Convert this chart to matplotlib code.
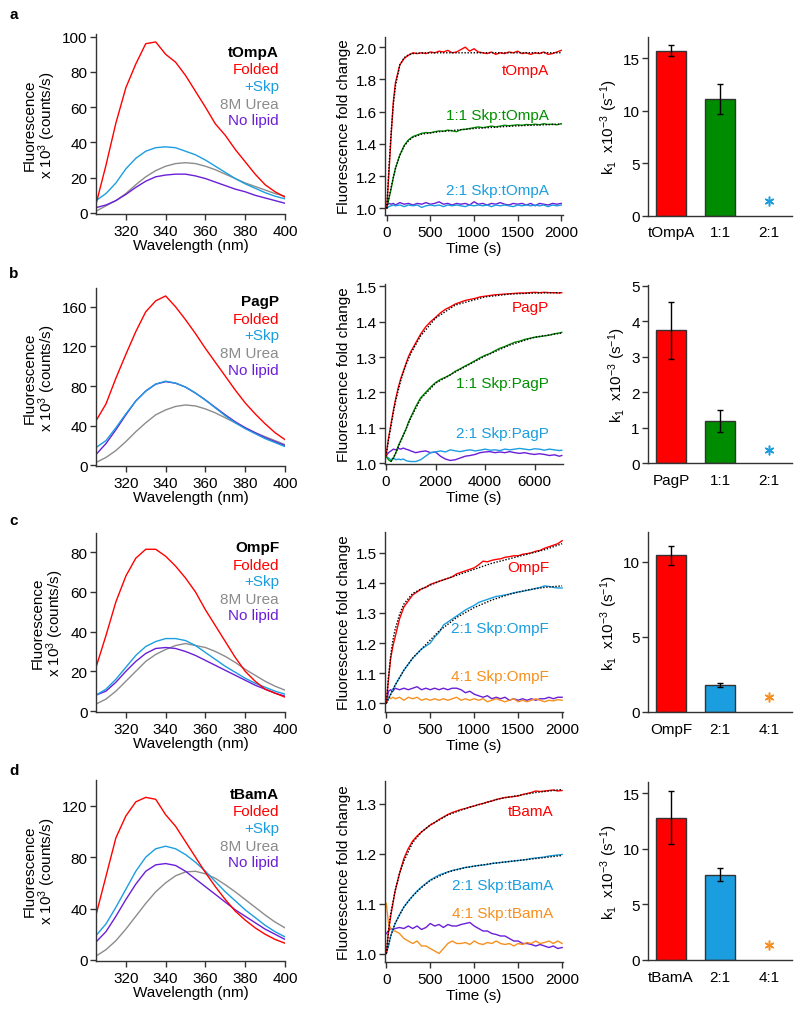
import numpy as np
import matplotlib
matplotlib.use('Agg')
import matplotlib.pyplot as plt

plt.rcParams['font.family'] = ['Liberation Sans', 'DejaVu Sans']
plt.rcParams['mathtext.fontset'] = 'custom'
plt.rcParams['mathtext.rm'] = 'Liberation Sans'
plt.rcParams['mathtext.it'] = 'Liberation Sans'
plt.rcParams['font.size'] = 11

RED = '#ff0000'
SKY = '#1b9ee0'
GRAY = '#8c8c8c'
PURPLE = '#6a1ed8'
GREEN = '#009000'
BARGREEN = '#008c00'
ORANGE = '#f7901e'

# ---- emission spectra (x 10^3 counts/s) ----
wavelength = [305, 310, 315, 320, 325, 330, 335, 340, 345, 350,
              355, 360, 365, 370, 375, 380, 385, 390, 395, 400]

tompa_folded = [5, 27, 51, 71, 84.5, 96, 97, 90, 85.5, 78, 69, 60, 50.5, 44, 36, 29, 22, 16, 12, 9]
tompa_skp = [7, 11, 17, 25, 31, 35, 37, 37.5, 37, 35, 33, 30, 26.5, 23, 19.5, 16.5, 14, 11.5, 9.5, 8]
tompa_urea = [1, 4, 7, 11, 16, 20.5, 24, 26.5, 28, 28.5, 28, 26.5, 24.5, 22, 19.5, 17, 15, 13, 11, 9.5]
tompa_nolipid = [3, 4.5, 7, 10.5, 14.5, 18, 20.5, 21.5, 22, 22, 21, 19.5, 17.5, 15.5, 13.5, 12, 10, 8.5, 7, 5.5]

pagp_folded = [45, 62, 88, 112, 135, 155, 166, 171, 160, 147, 133, 118, 104, 90, 76, 63, 52, 42, 33, 26]
pagp_skp = [18, 25, 38, 52, 65, 75, 82, 85, 83, 79, 73, 66, 58, 50, 43, 37, 32, 27, 23, 19]
pagp_urea = [3, 8, 15, 24, 34, 43, 51, 56, 59.5, 61, 60, 57, 53, 48, 43, 38, 33, 29, 25, 21]
pagp_nolipid = [11, 22, 36, 51, 65, 75, 82, 84.5, 83, 79, 73, 66, 58.5, 51, 44, 38, 33, 28, 24, 20]

ompf_folded = [22, 38, 55, 68, 77, 81.5, 81.5, 78, 73, 67, 60, 51, 43, 35, 27, 20, 15, 11, 9, 7]
ompf_skp = [8, 11, 16, 22, 28, 32.5, 35, 36.5, 36.5, 35.5, 33, 29.5, 26, 22.5, 19.5, 16.5, 14, 12, 10, 8.5]
ompf_urea = [3.5, 6, 10, 15, 20, 25, 28.5, 31, 33, 34, 33, 32, 30, 27.5, 24.5, 21, 18, 15, 12.5, 10.5]
ompf_nolipid = [8, 10, 14.5, 20, 25, 29, 31.5, 32, 31.5, 30, 28, 25.5, 23, 20.5, 18, 15.5, 13, 11, 9, 7.5]

tbama_folded = [35, 65, 95, 112, 123, 126.5, 125, 113, 104, 92, 80, 68, 57, 47, 38, 31, 25, 20, 16, 13]
tbama_skp = [19, 28, 41, 55, 69, 80, 86.5, 88.5, 86.5, 82, 76, 69, 61, 53, 46, 39, 33, 27, 22, 18]
tbama_urea = [3, 8, 15, 24, 34, 44, 53, 60, 65.5, 68.5, 69, 67, 63.5, 58.5, 53, 47, 41, 35, 29.5, 25]
tbama_nolipid = [14, 22, 34, 47, 59, 69, 74, 75, 73.5, 69, 63, 57, 51, 45, 39, 34, 29, 24, 20, 16]

# ---- folding kinetics (fold change) ----
t_short = [0, 25, 50, 75, 100, 150, 200, 250, 300, 350, 400, 450, 500, 550, 600, 650, 700, 750,
           800, 850, 900, 950, 1000, 1050, 1100, 1150, 1200, 1250, 1300, 1350, 1400, 1450, 1500,
           1550, 1600, 1650, 1700, 1750, 1800, 1850, 1900, 1950, 2000]

kin_tompa = [1.00, 1.22, 1.45, 1.66, 1.78, 1.89, 1.93, 1.95, 1.965, 1.96, 1.965, 1.96, 1.97, 1.965,
             1.975, 1.97, 1.98, 1.965, 1.97, 1.985, 2.0, 1.975, 1.99, 1.97, 1.965, 1.96, 1.97, 1.955,
             1.965, 1.96, 1.97, 1.965, 1.975, 1.96, 1.965, 1.955, 1.965, 1.96, 1.97, 1.955, 1.96,
             1.97, 1.98]
kin_tompa_11 = [1.0, 1.06, 1.12, 1.19, 1.25, 1.33, 1.39, 1.425, 1.445, 1.455, 1.465, 1.47, 1.468,
                1.475, 1.48, 1.478, 1.485, 1.48, 1.475, 1.488, 1.49, 1.495, 1.50, 1.505, 1.50, 1.505,
                1.51, 1.505, 1.51, 1.515, 1.512, 1.515, 1.518, 1.515, 1.52, 1.518, 1.522, 1.518,
                1.525, 1.52, 1.522, 1.518, 1.525]
kin_tompa_21 = [1.0, 1.01, 1.015, 1.02, 1.015, 1.02, 1.01, 1.02, 1.015, 1.02, 1.005, 1.015, 1.02,
                1.015, 1.02, 1.01, 1.02, 1.015, 1.02, 1.015, 1.01, 1.02, 1.015, 1.02, 1.015, 1.02,
                1.01, 1.02, 1.015, 1.02, 1.015, 1.01, 1.02, 1.015, 1.02, 1.015, 1.02, 1.015, 1.02,
                1.01, 1.02, 1.015, 1.02]
kin_tompa_nolipid = [1.02, 1.03, 1.025, 1.03, 1.02, 1.035, 1.025, 1.03, 1.02, 1.03, 1.025, 1.035,
                     1.025, 1.03, 1.04, 1.025, 1.03, 1.02, 1.03, 1.025, 1.03, 1.02, 1.04, 1.025,
                     1.03, 1.02, 1.03, 1.025, 1.035, 1.025, 1.02, 1.03, 1.025, 1.03, 1.02, 1.03,
                     1.015, 1.03, 1.025, 1.02, 1.03, 1.025, 1.03]
fit_t_tompa = [0, 25, 50, 75, 100, 150, 200, 250, 300, 400, 600, 1000, 2000]
fit_tompa = [1.0, 1.25, 1.47, 1.64, 1.76, 1.89, 1.935, 1.953, 1.96, 1.964, 1.965, 1.965, 1.965]
fit_t_tompa_11 = [0, 25, 50, 75, 100, 150, 200, 250, 300, 400, 600, 800, 1000, 1500, 2000]
fit_tompa_11 = [1.0, 1.065, 1.13, 1.19, 1.245, 1.33, 1.385, 1.42, 1.44, 1.46, 1.475, 1.485, 1.495,
                1.512, 1.522]

t_long = [0, 100, 200, 300, 400, 500, 600, 700, 800, 900, 1000, 1200, 1400, 1600, 1800, 2000,
          2200, 2400, 2600, 2800, 3000, 3200, 3400, 3600, 3800, 4000, 4200, 4400, 4600, 4800,
          5000, 5200, 5400, 5600, 5800, 6000, 6200, 6400, 6600, 6800, 7000, 7100]

kin_pagp = [1.02, 1.07, 1.11, 1.15, 1.185, 1.215, 1.24, 1.26, 1.28, 1.30, 1.315, 1.34, 1.365,
            1.385, 1.40, 1.412, 1.425, 1.435, 1.442, 1.45, 1.455, 1.46, 1.463, 1.466, 1.47, 1.472,
            1.474, 1.476, 1.477, 1.478, 1.479, 1.48, 1.481, 1.481, 1.482, 1.483, 1.482, 1.483,
            1.482, 1.482, 1.481, 1.482]
kin_pagp_11 = [1.02, 1.01, 1.005, 1.015, 1.03, 1.05, 1.065, 1.08, 1.095, 1.115, 1.13, 1.16, 1.185,
               1.20, 1.215, 1.228, 1.237, 1.243, 1.25, 1.26, 1.267, 1.275, 1.282, 1.29, 1.298,
               1.305, 1.31, 1.318, 1.325, 1.33, 1.336, 1.342, 1.345, 1.35, 1.353, 1.356, 1.358,
               1.36, 1.362, 1.366, 1.368, 1.37]
kin_pagp_21 = [1.02, 1.015, 1.01, 1.015, 1.01, 1.012, 1.01, 1.012, 1.008, 1.006, 1.005, 1.005,
               1.01, 1.02, 1.03, 1.032, 1.035, 1.032, 1.038, 1.035, 1.033, 1.036, 1.038, 1.035,
               1.037, 1.04, 1.037, 1.038, 1.036, 1.04, 1.038, 1.04, 1.042, 1.04, 1.038, 1.041,
               1.04, 1.037, 1.04, 1.038, 1.036, 1.037]
kin_pagp_nolipid = [1.02, 1.03, 1.035, 1.04, 1.038, 1.042, 1.04, 1.043, 1.04, 1.038, 1.035, 1.03,
                    1.033, 1.035, 1.03, 1.032, 1.02, 1.012, 1.008, 1.01, 1.015, 1.02, 1.022,
                    1.025, 1.03, 1.032, 1.033, 1.03, 1.032, 1.03, 1.033, 1.03, 1.028, 1.03,
                    1.027, 1.025, 1.027, 1.025, 1.022, 1.024, 1.02, 1.022]
fit_t_pagp = [0, 100, 200, 300, 400, 600, 800, 1000, 1400, 2000, 2800, 4000, 5000, 6000, 7100]
fit_pagp = [1.02, 1.065, 1.105, 1.145, 1.18, 1.235, 1.277, 1.31, 1.36, 1.41, 1.447, 1.47, 1.478,
            1.481, 1.482]
fit_t_pagp_11 = [200, 300, 400, 600, 800, 1000, 1400, 2000, 2800, 4000, 5000, 6000, 7100]
fit_pagp_11 = [1.005, 1.015, 1.03, 1.063, 1.095, 1.128, 1.182, 1.226, 1.258, 1.303, 1.334, 1.356,
               1.368]

kin_ompf = [1.0, 1.08, 1.15, 1.19, 1.22, 1.28, 1.32, 1.34, 1.36, 1.37, 1.38, 1.385, 1.395, 1.40,
            1.405, 1.41, 1.415, 1.42, 1.43, 1.435, 1.44, 1.445, 1.45, 1.46, 1.472, 1.47, 1.475,
            1.478, 1.48, 1.485, 1.487, 1.49, 1.49, 1.495, 1.497, 1.50, 1.505, 1.508, 1.515, 1.52,
            1.525, 1.53, 1.54]
kin_ompf_21 = [1.0, 1.015, 1.03, 1.045, 1.06, 1.085, 1.11, 1.13, 1.15, 1.165, 1.18, 1.19, 1.20,
               1.22, 1.235, 1.26, 1.27, 1.28, 1.29, 1.30, 1.31, 1.318, 1.325, 1.335, 1.34, 1.345,
               1.35, 1.355, 1.357, 1.36, 1.363, 1.367, 1.37, 1.372, 1.375, 1.378, 1.382, 1.385,
               1.39, 1.388, 1.385, 1.383, 1.383]
kin_ompf_41 = [1.005, 1.02, 1.015, 1.02, 1.015, 1.02, 1.01, 1.02, 1.015, 1.02, 1.01, 1.015, 1.01,
               1.015, 1.01, 1.015, 1.01, 1.015, 1.02, 1.01, 1.015, 1.01, 1.015, 1.01, 1.015,
               1.005, 1.01, 1.015, 1.01, 1.005, 1.01, 1.015, 1.005, 1.01, 1.005, 1.01, 1.015,
               1.01, 1.005, 1.01, 1.008, 1.012, 1.01]
kin_ompf_nolipid = [1.0, 1.04, 1.045, 1.04, 1.05, 1.045, 1.05, 1.045, 1.05, 1.055, 1.045, 1.05,
                    1.045, 1.05, 1.045, 1.05, 1.045, 1.05, 1.05, 1.045, 1.035, 1.04, 1.03, 1.025,
                    1.02, 1.025, 1.015, 1.02, 1.015, 1.02, 1.01, 1.015, 1.01, 1.015, 1.01, 1.015,
                    1.01, 1.015, 1.015, 1.02, 1.015, 1.02, 1.02]
fit_t_ompf = [0, 25, 50, 75, 100, 150, 200, 300, 400, 600, 800, 1000, 1200, 1400, 1600, 1800, 2000]
fit_ompf = [1.0, 1.09, 1.16, 1.21, 1.245, 1.295, 1.33, 1.365, 1.38, 1.405, 1.425, 1.445, 1.465,
            1.48, 1.495, 1.51, 1.53]
fit_t_ompf_21 = [0, 100, 200, 300, 400, 500, 600, 800, 1000, 1200, 1400, 1600, 1800, 2000]
fit_ompf_21 = [1.0, 1.06, 1.11, 1.15, 1.18, 1.21, 1.24, 1.285, 1.318, 1.343, 1.362, 1.376, 1.385,
               1.39]

kin_tbama = [1.0, 1.045, 1.075, 1.10, 1.125, 1.16, 1.19, 1.21, 1.225, 1.235, 1.243, 1.25, 1.257,
             1.262, 1.268, 1.273, 1.278, 1.282, 1.285, 1.288, 1.29, 1.293, 1.295, 1.298, 1.30,
             1.303, 1.305, 1.308, 1.31, 1.312, 1.313, 1.314, 1.315, 1.318, 1.32, 1.322, 1.325,
             1.324, 1.325, 1.326, 1.327, 1.325, 1.326]
kin_tbama_21 = [1.0, 1.015, 1.035, 1.048, 1.06, 1.078, 1.093, 1.105, 1.115, 1.125, 1.133, 1.14,
                1.147, 1.152, 1.157, 1.16, 1.163, 1.166, 1.168, 1.17, 1.172, 1.173, 1.175, 1.176,
                1.177, 1.178, 1.18, 1.181, 1.182, 1.183, 1.184, 1.185, 1.186, 1.187, 1.188, 1.19,
                1.191, 1.192, 1.193, 1.195, 1.196, 1.197, 1.198]
kin_tbama_41 = [1.10, 1.06, 1.05, 1.045, 1.045, 1.04, 1.03, 1.025, 1.02, 1.025, 1.015, 1.015,
                1.01, 1.005, 1.0, 1.01, 1.02, 1.025, 1.02, 1.02, 1.022, 1.018, 1.025, 1.02, 1.018,
                1.022, 1.02, 1.025, 1.02, 1.018, 1.02, 1.015, 1.02, 1.018, 1.022, 1.02, 1.025,
                1.02, 1.022, 1.025, 1.02, 1.025, 1.02]
kin_tbama_nolipid = [1.04, 1.045, 1.05, 1.048, 1.05, 1.052, 1.05, 1.055, 1.05, 1.055, 1.048,
                     1.052, 1.06, 1.055, 1.058, 1.052, 1.058, 1.055, 1.055, 1.058, 1.06, 1.062,
                     1.055, 1.05, 1.045, 1.045, 1.04, 1.038, 1.035, 1.035, 1.03, 1.025, 1.025,
                     1.02, 1.02, 1.018, 1.015, 1.018, 1.015, 1.012, 1.015, 1.01, 1.012]
fit_t_tbama = [0, 25, 50, 100, 150, 200, 300, 400, 500, 700, 900, 1100, 1300, 1500, 1700, 2000]
fit_tbama = [1.0, 1.045, 1.08, 1.125, 1.16, 1.185, 1.222, 1.243, 1.257, 1.277, 1.29, 1.30, 1.31,
             1.316, 1.322, 1.328]
fit_t_tbama_21 = [0, 50, 100, 200, 300, 400, 500, 700, 900, 1200, 1500, 2000]
fit_tbama_21 = [1.0, 1.035, 1.06, 1.093, 1.115, 1.132, 1.146, 1.163, 1.172, 1.18, 1.186, 1.196]

# ---- rate constants k1 x10^-3 (s^-1) ----
tompa_bars = ['tOmpA', '1:1', '2:1']
tompa_k = [15.7, 11.1]
tompa_err = [0.55, 1.4]
tompa_star = 1.4

pagp_bars = ['PagP', '1:1', '2:1']
pagp_k = [3.75, 1.18]
pagp_err = [0.8, 0.31]
pagp_star = 0.38

ompf_bars = ['OmpF', '2:1', '4:1']
ompf_k = [10.45, 1.79]
ompf_err = [0.63, 0.14]
ompf_star = 1.03

tbama_bars = ['tBamA', '2:1', '4:1']
tbama_k = [12.8, 7.65]
tbama_err = [2.4, 0.58]
tbama_star = 1.35

W, H = 800, 1020
fig = plt.figure(figsize=(W / 100, H / 100), dpi=100)


def Add_Axes(x0, x1, top, bottom):
    """Adds an axes given pixel edges"""
    ax = fig.add_axes([x0 / W, 1 - bottom / H, (x1 - x0) / W, (bottom - top) / H])
    [ax.spines[s].set_visible(False) for s in ['top', 'right']]
    for s in ['left', 'bottom']:
        ax.spines[s].set_color('#333333')
        ax.spines[s].set_linewidth(1.0)
    ax.tick_params(direction='out', length=4, width=1, color='#333333', labelsize=11, pad=2)
    ax.tick_params(axis='x', pad=3)
    return ax


def Fig_Text(x, y, s, color='black', weight='normal', ha='right'):
    fig.text(x / W, 1 - y / H, s, color=color, fontweight=weight, ha=ha, va='center', fontsize=11)


def Plot_Spectra(ax, folded, skp, urea, nolipid, ylim, yticks):
    ax.plot(wavelength, urea, color=GRAY, lw=1)
    ax.plot(wavelength, nolipid, color=PURPLE, lw=1)
    ax.plot(wavelength, skp, color=SKY, lw=1)
    ax.plot(wavelength, folded, color=RED, lw=1)
    ax.set_xlim(305, 400)
    ax.set_ylim(*ylim)
    ax.set_xticks([320, 340, 360, 380, 400])
    ax.set_yticks(yticks)
    ax.set_xlabel('Wavelength (nm)', labelpad=0)
    ax.set_ylabel('Fluorescence\nx 10$^3$ (counts/s)', labelpad=3, linespacing=1.0)


def Plot_Kinetics(ax, t, series, fits, xlim, ylim, xticks, yticks, fmt):
    for values, color in series:
        ax.plot(t, values, color=color, lw=1)
    for ft, fv in fits:
        ax.plot(ft, fv, color='black', lw=1, ls=(0, (1, 1.2)))
    ax.set_xlim(*xlim)
    ax.set_ylim(*ylim)
    ax.set_xticks(xticks)
    ax.set_yticks(yticks)
    ax.set_yticklabels([fmt.format(v) for v in yticks])
    ax.set_xlabel('Time (s)', labelpad=2)
    ax.set_ylabel('Fluorescence fold change', labelpad=3)


def Plot_Bars(ax, names, k, err, star, colors, star_color, ylim, yticks):
    x = np.arange(len(names))
    ax.bar(x[:2], k, width=0.61, color=colors, edgecolor='#333333', lw=1, zorder=2)
    ax.errorbar(x[:2], k, yerr=err, fmt='none', ecolor='black', elinewidth=1, capsize=2.5,
                capthick=1, zorder=3)
    ax.plot([x[2]], [star], marker=(6, 2, 0), ms=7, mew=1.1, color=star_color, ls='none')
    ax.set_xlim(-0.47, 2.47)
    ax.set_ylim(*ylim)
    ax.set_xticks(x)
    ax.set_xticklabels(names)
    ax.tick_params(axis='x', length=0, pad=7)
    ax.set_yticks(yticks)
    ax.set_ylabel('k$_1$  x10$^{-3}$ (s$^{-1}$)', labelpad=2)


LX0, LX1 = 96, 285
MX0, MX1 = 385, 563
RX0, RX1 = 648, 792

# ---- row a ----
ax = Add_Axes(LX0, LX1, 35, 215)
Plot_Spectra(ax, tompa_folded, tompa_skp, tompa_urea, tompa_nolipid, (-0.6, 101.5), [0, 20, 40, 60, 80, 100])
ax = Add_Axes(MX0, MX1, 38, 216)
Plot_Kinetics(ax, t_short,
              [(kin_tompa_nolipid, PURPLE), (kin_tompa_21, SKY), (kin_tompa_11, GREEN), (kin_tompa, RED)],
              [(fit_t_tompa, fit_tompa), (fit_t_tompa_11, fit_tompa_11)],
              (-20, 2020), (0.958, 2.063), [0, 500, 1000, 1500, 2000], [1.0, 1.2, 1.4, 1.6, 1.8, 2.0], '{:.1f}')
ax = Add_Axes(RX0, RX1, 38, 216.7)
Plot_Bars(ax, tompa_bars, tompa_k, tompa_err, tompa_star, [RED, BARGREEN], SKY, (0, 17), [0, 5, 10, 15])

# ---- row b ----
ax = Add_Axes(LX0, LX1, 289, 467)
Plot_Spectra(ax, pagp_folded, pagp_skp, pagp_urea, pagp_nolipid, (-0.6, 179), [0, 40, 80, 120, 160])
ax = Add_Axes(MX0, MX1, 285, 465)
Plot_Kinetics(ax, t_long,
              [(kin_pagp_nolipid, PURPLE), (kin_pagp_21, SKY), (kin_pagp_11, GREEN), (kin_pagp, RED)],
              [(fit_t_pagp, fit_pagp), (fit_t_pagp_11, fit_pagp_11)],
              (-40, 7150), (0.998, 1.5065), [0, 2000, 4000, 6000], [1.0, 1.1, 1.2, 1.3, 1.4, 1.5], '{:.1f}')
ax = Add_Axes(RX0, RX1, 286, 464.3)
Plot_Bars(ax, pagp_bars, pagp_k, pagp_err, pagp_star, [RED, BARGREEN], SKY, (0, 5.02), [0, 1, 2, 3, 4, 5])

# ---- row c ----
ax = Add_Axes(LX0, LX1, 534, 713)
Plot_Spectra(ax, ompf_folded, ompf_skp, ompf_urea, ompf_nolipid, (-0.5, 89.7), [0, 20, 40, 60, 80])
ax = Add_Axes(MX0, MX1, 533, 713)
Plot_Kinetics(ax, t_short,
              [(kin_ompf_nolipid, PURPLE), (kin_ompf_41, ORANGE), (kin_ompf_21, SKY), (kin_ompf, RED)],
              [(fit_t_ompf, fit_ompf), (fit_t_ompf_21, fit_ompf_21)],
              (-15, 2010), (0.971, 1.569), [0, 500, 1000, 1500, 2000], [1.0, 1.1, 1.2, 1.3, 1.4, 1.5], '{:.1f}')
ax = Add_Axes(RX0, RX1, 533, 713)
Plot_Bars(ax, ompf_bars, ompf_k, ompf_err, ompf_star, [RED, SKY], ORANGE, (0, 12), [0, 5, 10])

# ---- row d ----
ax = Add_Axes(LX0, LX1, 781, 962)
Plot_Spectra(ax, tbama_folded, tbama_skp, tbama_urea, tbama_nolipid, (-0.8, 140), [0, 40, 80, 120])
ax = Add_Axes(MX0, MX1, 782, 963)
Plot_Kinetics(ax, t_short,
              [(kin_tbama_nolipid, PURPLE), (kin_tbama_41, ORANGE), (kin_tbama_21, SKY), (kin_tbama, RED)],
              [(fit_t_tbama, fit_tbama), (fit_t_tbama_21, fit_tbama_21)],
              (-15, 2010), (0.983, 1.345), [0, 500, 1000, 1500, 2000], [1.0, 1.1, 1.2, 1.3], '{:.1f}')
ax = Add_Axes(RX0, RX1, 783, 961)
Plot_Bars(ax, tbama_bars, tbama_k, tbama_err, tbama_star, [RED, SKY], ORANGE, (0, 16), [0, 5, 10, 15])

# ---- labels ----
for letter, y in [('a', 15), ('b', 274), ('c', 521), ('d', 771)]:
    Fig_Text(14, y, letter, weight='bold', ha='center')

legend_rows = [('tOmpA', 53), ('PagP', 302), ('OmpF', 548), ('tBamA', 795)]
for name, y0 in legend_rows:
    Fig_Text(279, y0, name, weight='bold')
    Fig_Text(279, y0 + 17.5, 'Folded', color=RED)
    Fig_Text(279, y0 + 34, '+Skp', color=SKY)
    Fig_Text(279, y0 + 52, '8M Urea', color=GRAY)
    Fig_Text(279, y0 + 68.5, 'No lipid', color=PURPLE)

Fig_Text(549, 71, 'tOmpA', color=RED)
Fig_Text(549, 116, '1:1 Skp:tOmpA', color=GREEN)
Fig_Text(549, 191, '2:1 Skp:tOmpA', color=SKY)
Fig_Text(549, 308, 'PagP', color=RED)
Fig_Text(549, 384, '1:1 Skp:PagP', color=GREEN)
Fig_Text(549, 434, '2:1 Skp:PagP', color=SKY)
Fig_Text(549, 568, 'OmpF', color=RED)
Fig_Text(549, 629, '2:1 Skp:OmpF', color=SKY)
Fig_Text(549, 677, '4:1 Skp:OmpF', color=ORANGE)
Fig_Text(553, 812, 'tBamA', color=RED)
Fig_Text(553, 886, '2:1 Skp:tBamA', color=SKY)
Fig_Text(553, 914, '4:1 Skp:tBamA', color=ORANGE)

fig.savefig('out.png', dpi=100)
